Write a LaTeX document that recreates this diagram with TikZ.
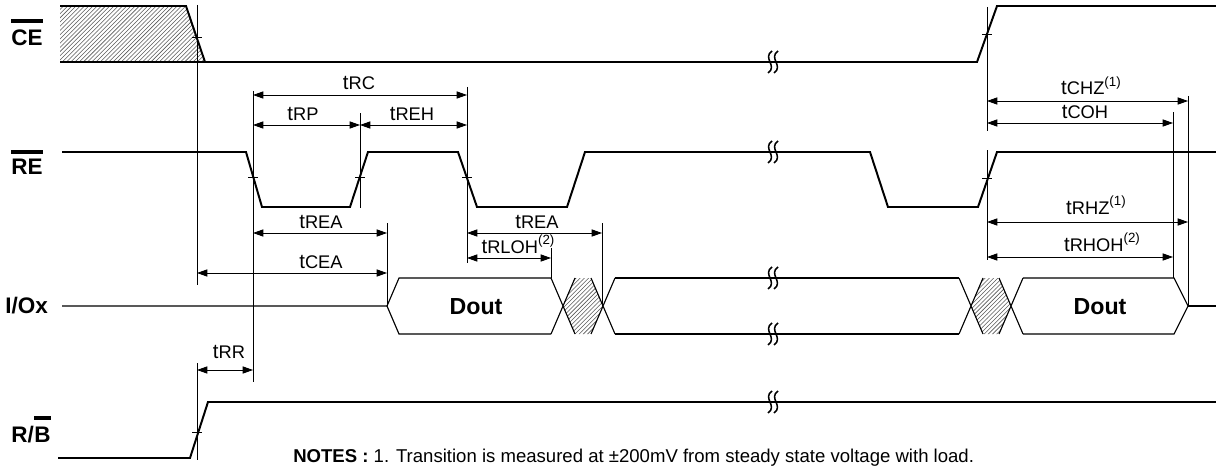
\documentclass[tikz,border=0pt]{standalone}
\usepackage{fontspec}
\setmainfont{Liberation Sans}
\usetikzlibrary{arrows.meta,positioning,patterns}
\newcommand{\tbig}{\fontsize{14.5}{17}\selectfont}
\newcommand{\tsmall}{\fontsize{13}{15}\selectfont}
\newcommand{\tparam}[1]{{\tbig t}{\tsmall #1}}
\newcommand{\tnote}[1]{\raisebox{6pt}{\fontsize{9.5}{11}\selectfont(#1)}}
\tikzset{
  >={Triangle[length=2.6mm,width=1.8mm]},
  wave/.style={line width=1.4pt, line join=miter},
  bus/.style={line width=.8pt},
  guide/.style={line width=.55pt},
  dim/.style={<->, line width=.6pt},
  hatch/.style={pattern=north east lines, pattern color=black!65},
  siglab/.style={font=\bfseries\fontsize{16}{19}\selectfont, inner sep=0pt, anchor=base west},
  tlab/.style={inner sep=0pt, anchor=base},
  dout/.style={font=\bfseries\fontsize{16.5}{19}\selectfont, inner sep=0pt},
  bar/.style={line width=2.2pt},
  brk/.pic={
    \foreach \o in {-3,3}
      \draw[line width=1.1pt] (\o+2,-11) .. controls (\o-8,-4) and (\o+8,4) .. (\o-2,11);
  }
}

\begin{document}
\begin{tikzpicture}[x=0.025cm,y=-0.025cm]
  \useasboundingbox (0,0) rectangle (1216,466);

  % signal names
  \node[siglab] (ce) at (11,46) {CE};
  \node[siglab] (re) at (11,174) {RE};
  \node[siglab] (io) at (5,313) {I/Ox};
  \node[siglab] (rb) at (11,442) {R/};
  \node[siglab,base right=0pt of rb] (rbb) {B};
  \coordinate (cebar) at (0,21);
  \coordinate (rebar) at (0,152);
  \coordinate (rbbar) at (0,418);
  \draw[bar] (ce.west |- cebar) -- (ce.east |- cebar);
  \draw[bar] (re.west |- rebar) -- (re.east |- rebar);
  \draw[bar] (rbb.west |- rbbar) -- (rbb.east |- rbbar);

  % CE
  \path[hatch] (60,6) -- (186,6) -- (205,62) -- (60,62) -- cycle;
  \draw[wave] (60,6) -- (186,6) -- (205,62) -- (977,62) -- (997,6) -- (1216,6);
  \draw[wave] (60,62) -- (205,62);

  % RE
  \draw[wave] (62,152) -- (246,152) -- (262,207) -- (350,207) -- (368,152) -- (458,152)
    -- (477,207) -- (567,207) -- (585,152) -- (870,152) -- (888,207) -- (978,207)
    -- (997,152) -- (1216,152);

  % I/Ox
  \draw[bus] (62,306) -- (387,306) -- (399,278) -- (551,278);
  \draw[bus] (387,306) -- (399,334) -- (551,334);
  \draw[bus] (615,278) -- (959,278) (615,334) -- (959,334);
  \draw[bus] (1023,278) -- (1174,278) -- (1188,306) -- (1174,334) -- (1023,334);
  \draw[bus] (1188,306) -- (1216,306);
  \foreach \c in {551,959}{
    \path[hatch] (\c+12,306) -- (\c+24,278) -- (\c+40,278) -- (\c+52,306) -- (\c+40,334) -- (\c+24,334) -- cycle;
    \draw[bus] (\c,278) -- (\c+24,334) (\c,334) -- (\c+24,278)
      (\c+40,278) -- (\c+64,334) (\c+40,334) -- (\c+64,278);
  }
  \node[dout] (d1) at (476,307) {Dout};
  \node[dout] (d2) at (1100,307) {Dout};

  % R/B
  \draw[wave] (58,458) -- (190,458) -- (208,402) -- (1216,402);

  \foreach \y in {62,152,278,334,402} \pic at (773,\y) {brk};

  % timing guides and ticks
  \foreach \x/\ya/\yb in {197/5/285,197/363/460,253/91/382,360/113/208,467/87/263,
      387/223/306,551/248/278,602/223/306,987/7/131,987/150/260,1173/112/278,1188/96/306}
    \draw[guide] (\x,\ya) -- (\x,\yb);
  \foreach \x/\y in {197/37,253/177,360/177,467/177,987/34,987/178,197/432}
    \draw[guide] (\x-5,\y) -- (\x+5,\y);

  % timing parameters
  \foreach \xa/\xb/\y in {253/467/95,253/360/125,360/467/125,253/387/233,197/387/273,
      467/602/233,467/551/258,987/1188/101,987/1173/123,987/1188/222,987/1173/257,197/253/370}
    \draw[dim] (\xa,\y) -- (\xb,\y);
  \node[tlab] (trc) at (359,90) {\tparam{RC}};
  \node[tlab] (trp) at (303,120) {\tparam{RP}};
  \node[tlab] (treh) at (412,120) {\tparam{REH}};
  \node[tlab] (trea) at (321,228) {\tparam{REA}};
  \node[tlab] (tcea) at (321,268) {\tparam{CEA}};
  \node[tlab] (treb) at (537,228) {\tparam{REA}};
  \node[tlab] (trloh) at (518,253) {\tparam{RLOH}\tnote{2}};
  \node[tlab] (tchz) at (1091,95) {\tparam{CHZ}\tnote{1}};
  \node[tlab] (tcoh) at (1085,118) {\tparam{COH}};
  \node[tlab] (trhz) at (1096,214) {\tparam{RHZ}\tnote{1}};
  \node[tlab] (trhoh) at (1102,251) {\tparam{RHOH}\tnote{2}};
  \node[tlab] (trr) at (229,358) {\tparam{RR}};

  \node[inner sep=0pt,anchor=base west,font=\fontsize{13.2}{15}\selectfont] (notes) at (293,462)
    {\textbf{NOTES :} 1. Transition is measured at ±200mV from steady state voltage with load.};
\end{tikzpicture}
\end{document}
